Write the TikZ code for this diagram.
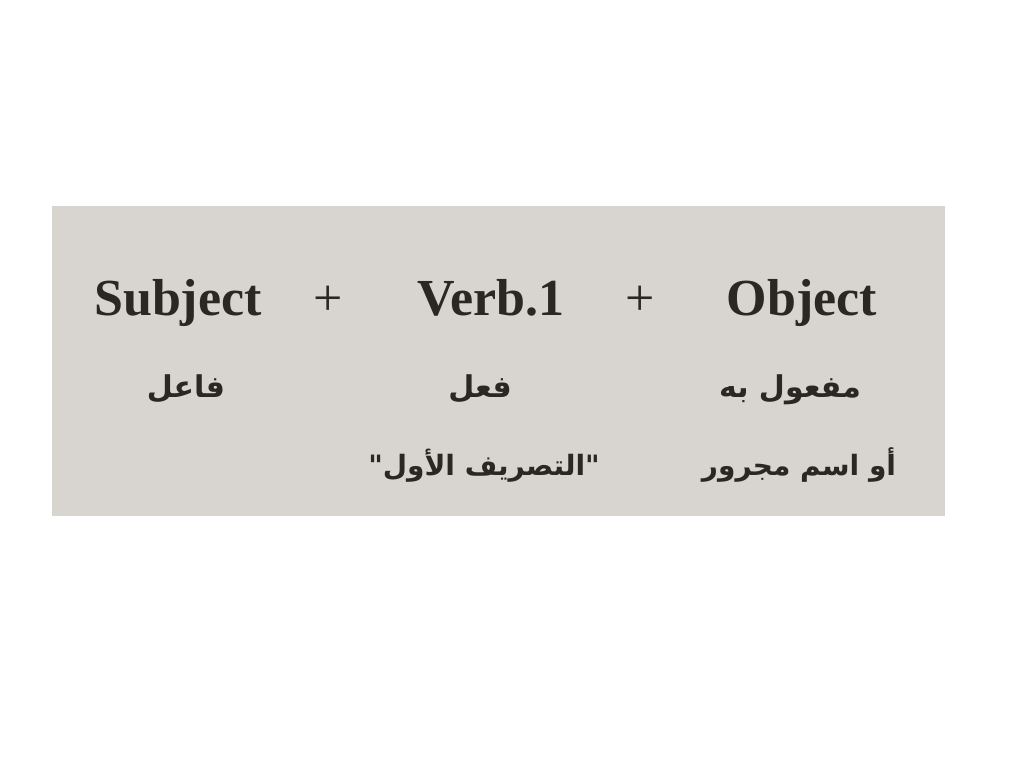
\documentclass[tikz,border=0pt]{standalone}
\usepackage{fontspec}
\setmainfont{Liberation Serif}
\newfontfamily\arabicfont[Script=Arabic]{DejaVu Sans}
\TeXXeTstate=1
\definecolor{paper}{HTML}{D8D5D0}
\definecolor{ink}{HTML}{2B2724}
\begin{document}
\begin{tikzpicture}[x=1pt,y=-1pt,
  lat/.style={text=ink,font=\fontsize{52}{58}\selectfont\bfseries,inner sep=0pt,anchor=base},
  plus/.style={text=ink,font=\fontsize{52}{58}\selectfont,inner sep=0pt,anchor=base},
  ar/.style={text=ink,font=\arabicfont\fontsize{30}{36}\selectfont\bfseries,inner sep=0pt,anchor=base},
  ars/.style={ar,font=\arabicfont\fontsize{28}{34}\selectfont\bfseries}]
\useasboundingbox (0,0) rectangle (1024,768);
\fill[white] (0,0) rectangle (1024,768);
\fill[paper] (52,206) rectangle (945,516);
\node[lat] (subj) at (178,315) {Subject};
\node[plus] (p1) at (328,315) {+};
\node[lat] (verb) at (491,315) {Verb.1};
\node[plus] (p2) at (640,315) {+};
\node[lat] (obj) at (802,315) {Object};
\node[ar] (fael) at (186,397) {\beginR فاعل\endR};
\node[ar] (feel) at (480,397) {\beginR فعل\endR};
\node[ar] (mafool) at (790,397) {\beginR مفعول به\endR};
\node[ars] (tasreef) at (484,475) {\beginR "التصريف الأول"\endR};
\node[ars] (ism) at (799,475) {\beginR أو اسم مجرور\endR};
\end{tikzpicture}
\end{document}
